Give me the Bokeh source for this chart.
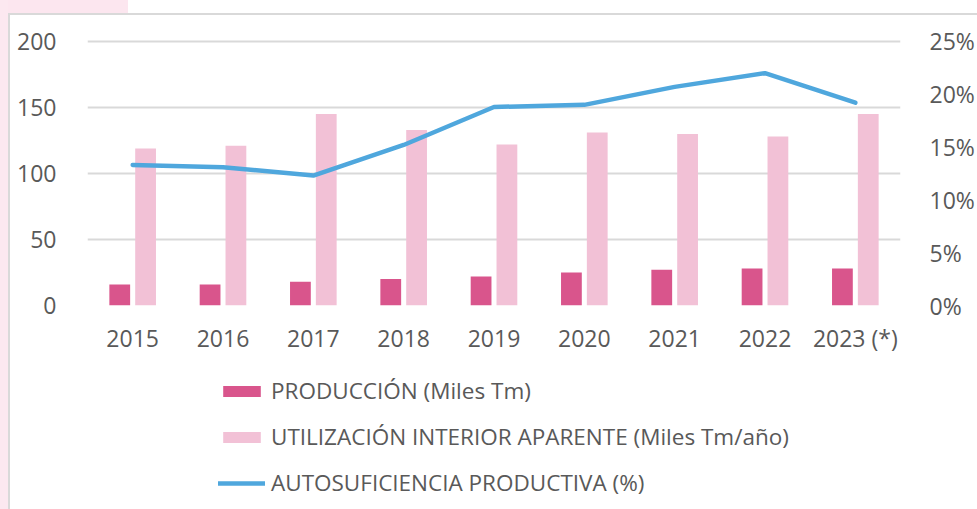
from bokeh.plotting import figure
from bokeh.layouts import column
from bokeh.models import (FactorRange, Range1d, LinearAxis, FixedTicker, PrintfTickFormatter,
                          Legend, LegendItem, ColumnDataSource, InlineStyleSheet)
from bokeh.transform import dodge
from bokeh.embed import file_html
from bokeh.resources import INLINE

years = ["2015", "2016", "2017", "2018", "2019", "2020", "2021", "2022", "2023 (*)"]
produccion = [16, 16, 18, 20, 22, 25, 27, 28, 28]
utilizacion = [119, 121, 145, 133, 122, 131, 130, 128, 145]
autosuficiencia = [13.3, 13.1, 12.3, 15.2, 18.8, 19.0, 20.7, 22.0, 19.2]

left_ticks = [0, 50, 100, 150, 200]
right_ticks = [0, 5, 10, 15, 20, 25]
legend_labels = ["PRODUCCIÓN (Miles Tm)",
                 "UTILIZACIÓN INTERIOR APARENTE (Miles Tm/año)",
                 "AUTOSUFICIENCIA PRODUCTIVA (%)"]

src = ColumnDataSource(dict(year=years, prod=produccion, util=utilizacion, auto=autosuficiencia))

FONT = "Open Sans"
TXT = "#595959"
C_PROD = "#D9558C"
C_UTIL = "#F2C1D6"
C_LINE = "#4FA7DD"
TOP = 201.5  # small headroom so the 200 gridline is drawn

p = figure(x_range=FactorRange(*years), y_range=Range1d(0, TOP),
           width=967, height=350, output_backend="svg", toolbar_location=None,
           min_border_left=77, min_border_right=69, min_border_top=24, min_border_bottom=60)
p.extra_y_ranges = {"pct": Range1d(0, 25 * TOP / 200)}
p.outline_line_color = None
p.border_fill_color = "white"

p.vbar(x=dodge("year", -0.143, range=p.x_range), top="prod", width=0.23, source=src,
       fill_color=C_PROD, line_color=None)
p.vbar(x=dodge("year", 0.143, range=p.x_range), top="util", width=0.23, source=src,
       fill_color=C_UTIL, line_color=None)
p.line(x="year", y="auto", source=src, y_range_name="pct", line_color=C_LINE,
       line_width=4.5, line_cap="round", line_join="round")

p.yaxis.ticker = FixedTicker(ticks=left_ticks)
p.xgrid.grid_line_color = None
p.ygrid.grid_line_color = "#D9D9D9"
p.ygrid.grid_line_width = 2
p.ygrid.ticker = FixedTicker(ticks=left_ticks)

ra = LinearAxis(y_range_name="pct", ticker=FixedTicker(ticks=right_ticks),
                formatter=PrintfTickFormatter(format="%d%%"))
p.add_layout(ra, "right")

for ax in [p.xaxis[0], p.yaxis[0], ra]:
    ax.axis_line_color = None
    ax.major_tick_line_color = None
    ax.minor_tick_line_color = None
    ax.major_label_text_font = FONT
    ax.major_label_text_font_size = "23px"
    ax.major_label_text_color = TXT
p.yaxis.major_label_standoff = 25
p.xaxis.major_label_standoff = 10
ra.major_label_standoff = 23

# legend figure (below the chart); its frame is aligned with the chart's frame
q = figure(width=967, height=144, output_backend="svg", toolbar_location=None,
           x_range=Range1d(0, 1), y_range=Range1d(0, 1),
           x_axis_location=None, y_axis_location=None,
           min_border_left=0, min_border_right=0, min_border_top=0, min_border_bottom=0)
q.grid.grid_line_color = None
q.outline_line_color = None
# swatch-only renderers, placed outside the visible range
g1 = q.vbar(x=[-5], top=[-5], width=0.1, fill_color=C_PROD, line_color=None)
g2 = q.vbar(x=[-5], top=[-5], width=0.1, fill_color=C_UTIL, line_color=None)
g3 = q.line(x=[-6, -5], y=[-5, -5], line_color=C_LINE, line_width=4.5, line_cap="round")

legend = Legend(items=[LegendItem(label=legend_labels[0], renderers=[g1]),
                       LegendItem(label=legend_labels[1], renderers=[g2]),
                       LegendItem(label=legend_labels[2], renderers=[g3])],
                location=(131, 11), orientation="vertical")
legend.padding = 0
legend.margin = 0
legend.border_line_alpha = 0
legend.background_fill_alpha = 0
legend.glyph_width = 47
legend.glyph_height = 14
legend.label_height = 29
legend.spacing = 15
legend.label_standoff = 6
legend.label_text_font = FONT
legend.label_text_font_size = "22.5px"
legend.label_text_color = TXT
q.add_layout(legend, "center")

layout = column(p, q, spacing=0)
layout.styles = {"margin-left": "8px", "margin-top": "13px",
                 "border-top": "2px solid #D9D9D9", "border-left": "2px solid #D9D9D9"}
layout.stylesheets = [InlineStyleSheet(css=(
    ":host::before{content:'';position:absolute;left:-10px;top:-15px;width:128px;height:13px;"
    "background:#FCE6EF;}"
    ":host::after{content:'';position:absolute;left:-10px;top:-15px;width:8px;height:520px;"
    "background:#FCE8F0;}"))]

open("out.html", "w").write(file_html(layout, INLINE))
